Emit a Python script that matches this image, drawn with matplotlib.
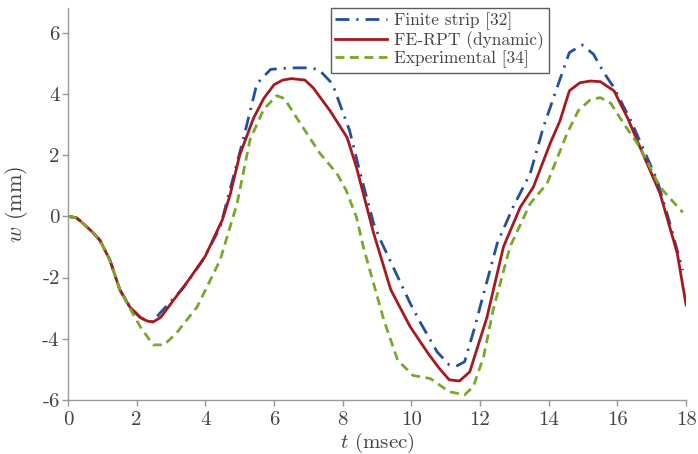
import matplotlib
matplotlib.use("Agg")
import matplotlib.pyplot as plt
import numpy as np

plt.rcParams['font.family'] = ['cmr10', 'DejaVu Serif']
plt.rcParams['mathtext.fontset'] = 'cm'
plt.rcParams['axes.unicode_minus'] = False
plt.rcParams['axes.formatter.use_mathtext'] = True

# FE-RPT (dynamic)
t_fe = [0, 0.25, 0.45, 0.7, 0.93, 1.22, 1.51, 1.8, 2.1, 2.3, 2.48, 2.7, 3.0, 3.5,
        4.0, 4.5, 4.72, 5.0, 5.4, 5.7, 6.0, 6.25, 6.5, 6.9, 7.14, 7.63, 8.13,
        8.4, 8.9, 9.4, 9.96, 10.5, 10.8, 11.1, 11.4, 11.7, 12.2, 12.68, 13.17,
        13.55, 14.04, 14.33, 14.6, 14.9, 15.2, 15.5, 15.9, 16.3, 16.66, 17.24,
        17.74, 18.0]
w_fe = [0, -0.05, -0.24, -0.5, -0.78, -1.43, -2.4, -2.96, -3.3, -3.42, -3.45,
        -3.3, -2.85, -2.1, -1.3, -0.1, 0.7, 2.0, 3.2, 3.85, 4.3, 4.45, 4.5, 4.45,
        4.2, 3.45, 2.57, 1.6, -0.55, -2.4, -3.6, -4.5, -4.95, -5.34, -5.38,
        -5.08, -3.3, -1.0, 0.3, 0.95, 2.38, 3.13, 4.1, 4.36, 4.42, 4.4, 4.1,
        3.2, 2.25, 0.75, -1.2, -2.9]

# Finite strip [32]
t_fs = [0, 0.25, 0.45, 0.7, 0.93, 1.22, 1.51, 1.8, 2.1, 2.3, 2.48, 2.68, 3.35,
        3.93, 4.43, 5.1, 5.5, 5.9, 6.5, 7.0, 7.3, 7.7, 8.2, 8.5, 8.9, 9.1, 9.96,
        10.25, 10.75, 11.1, 11.3, 11.55, 11.85, 12.0, 12.5, 12.96, 13.46, 13.84,
        14.24, 14.6, 14.97, 15.3, 15.6, 15.9, 16.4, 17.16, 17.5, 17.9]
w_fs = [0, -0.05, -0.24, -0.5, -0.78, -1.43, -2.4, -2.96, -3.3, -3.42, -3.45,
        -3.16, -2.35, -1.43, -0.36, 2.5, 4.33, 4.8, 4.85, 4.85, 4.8, 4.33, 2.8,
        1.45, -0.23, -0.78, -2.83, -3.45, -4.43, -4.85, -4.9, -4.75, -3.6, -2.96,
        -0.88, 0.3, 1.4, 2.9, 4.2, 5.35, 5.6, 5.3, 4.7, 4.2, 3.1, 1.17, -0.13,
        -1.76]

# Experimental [34]
t_ex = [0, 0.25, 0.45, 0.7, 0.93, 1.22, 1.51, 1.8, 2.1, 2.48, 2.8, 3.17, 3.76,
        4.43, 4.92, 5.3, 5.7, 6.08, 6.3, 6.67, 7.34, 7.83, 8.1, 8.4, 8.6, 9.2,
        9.6, 10.05, 10.55, 11.1, 11.55, 11.8, 12.1, 12.38, 12.87, 13.46, 13.95,
        14.53, 14.86, 15.2, 15.5, 15.8, 16.2, 16.66, 17.24, 17.9]
w_ex = [0, -0.05, -0.24, -0.5, -0.78, -1.43, -2.4, -3.0, -3.6, -4.2, -4.2, -3.8,
        -2.96, -1.43, 0.4, 2.5, 3.5, 3.94, 3.85, 3.2, 2.05, 1.4, 0.85, -0.03,
        -1.0, -3.4, -4.7, -5.2, -5.3, -5.73, -5.83, -5.57, -4.6, -3.06, -1.0,
        0.42, 1.07, 2.7, 3.45, 3.8, 3.88, 3.7, 3.0, 2.25, 0.95, 0.13]

x_ticks = [0, 2, 4, 6, 8, 10, 12, 14, 16, 18]
y_ticks = [-6, -4, -2, 0, 2, 4, 6]

fig = plt.figure(figsize=(6.98, 4.54), dpi=100)
ax = fig.add_axes([0.0974, 0.119, 0.8856, 0.863])

ax.plot(t_fs, w_fs, color='#2450a0', lw=2.0, ls=(0, (5, 2.5, 0.8, 2.5)),
        label='Finite strip [32]')
ax.plot(t_fe, w_fe, color='#a61a1f', lw=2.0, label='FE-RPT (dynamic)')
ax.plot(t_ex, w_ex, color='#79a82a', lw=2.0, ls=(0, (3.2, 2)),
        label='Experimental [34]')

ax.set_xlim(0, 18)
ax.set_ylim(-6, 6.8)
ax.set_xticks(x_ticks)
ax.set_xticklabels([str(v) for v in x_ticks])
ax.set_yticks(y_ticks)
ax.set_yticklabels([str(v) for v in y_ticks])

for side in ['top', 'right']:
    ax.spines[side].set_visible(False)
for side in ['left', 'bottom']:
    ax.spines[side].set_color('#999999')
    ax.spines[side].set_linewidth(1.0)
ax.tick_params(colors='#999999', labelcolor='#444444', labelsize=15,
               length=4, width=1.0)
ax.tick_params(axis='y', pad=2)
ax.tick_params(axis='x', pad=4)

ax.set_xlabel('$t$ (msec)', fontsize=15, color='#444444', labelpad=1)
ax.set_ylabel('$w$ (mm)', fontsize=16, color='#444444', labelpad=9)

leg = ax.legend(loc='upper left', bbox_to_anchor=(0.4256, 1.0),
                borderaxespad=0, fontsize=12.5, fancybox=False, frameon=True,
                handlelength=3.0, handletextpad=0.4, labelspacing=0.05,
                borderpad=0.25)
leg.get_frame().set_edgecolor('#333333')
leg.get_frame().set_linewidth(1.0)
for txt in leg.get_texts():
    txt.set_color('#444444')

fig.savefig('out.png', dpi=100)
